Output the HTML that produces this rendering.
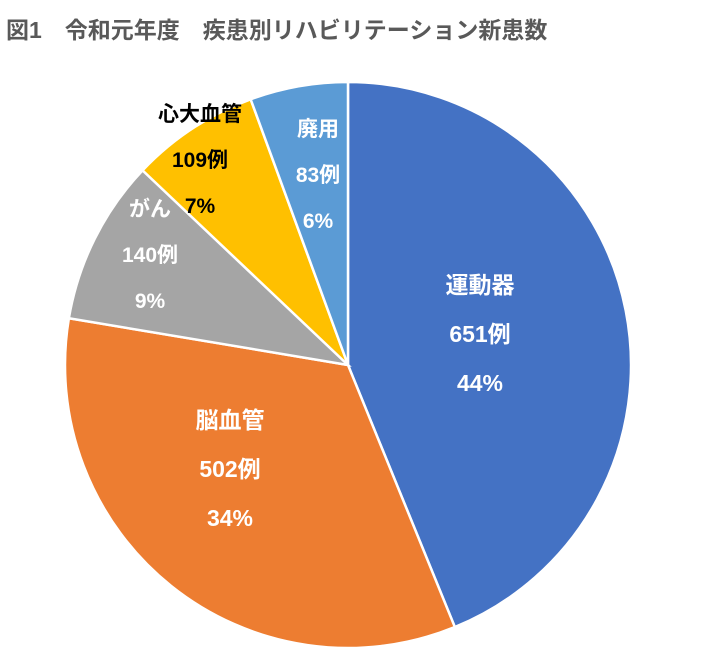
<!DOCTYPE html>
<html><head><meta charset="utf-8"><style>
body{margin:0;background:#fff;width:705px;height:661px;overflow:hidden}
svg{display:block}
text{font-family:"Liberation Sans","Noto Sans CJK JP",sans-serif;font-weight:bold}
</style></head><body>
<svg id="chart" width="705" height="661">
<text x="6" y="38" font-size="23" fill="#595959">図1　令和元年度　疾患別リハビリテーション新患数</text>
<g id="slices"></g><g id="labels"></g>
</svg>
<script>
const categories=["運動器","脳血管","がん","心大血管","廃用"];
const values=[651,502,140,109,83];
const percents=["44%","34%","9%","7%","6%"];
const colors=["#4472C4","#ED7D31","#A5A5A5","#FFC000","#5B9BD5"];
const labelColors=["#fff","#fff","#fff","#000","#fff"];
const labelPos=[[480,285],[230,420],[150,208],[200,113],[318,128]];
const cx=348,cy=365,r=283;
const total=values.reduce((a,b)=>a+b,0);
const ns="http://www.w3.org/2000/svg";
const gs=document.getElementById('slices'),gl=document.getElementById('labels');
let a0=-Math.PI/2;
values.forEach((v,i)=>{
  const a1=a0+v/total*2*Math.PI;
  const x0=cx+r*Math.cos(a0),y0=cy+r*Math.sin(a0),x1=cx+r*Math.cos(a1),y1=cy+r*Math.sin(a1);
  const p=document.createElementNS(ns,'path');
  p.setAttribute('d',`M${cx},${cy}L${x0},${y0}A${r},${r} 0 ${a1-a0>Math.PI?1:0} 1 ${x1},${y1}Z`);
  p.setAttribute('fill',colors[i]);p.setAttribute('stroke','#fff');p.setAttribute('stroke-width','2.5');
  
  
  gs.appendChild(p);
  const lines=[categories[i],v+"例",percents[i]];
  lines.forEach((s,j)=>{
    const t=document.createElementNS(ns,'text');
    t.setAttribute('x',labelPos[i][0]);t.setAttribute('y',labelPos[i][1]+j*(i>=2?46:49)+8);
    t.setAttribute('text-anchor','middle');t.setAttribute('font-size',i>=2?'21':'23');
    t.setAttribute('fill',labelColors[i]);t.textContent=s;
    
    
    gl.appendChild(t);
  });
  a0=a1;
});
</script>
</body></html>
